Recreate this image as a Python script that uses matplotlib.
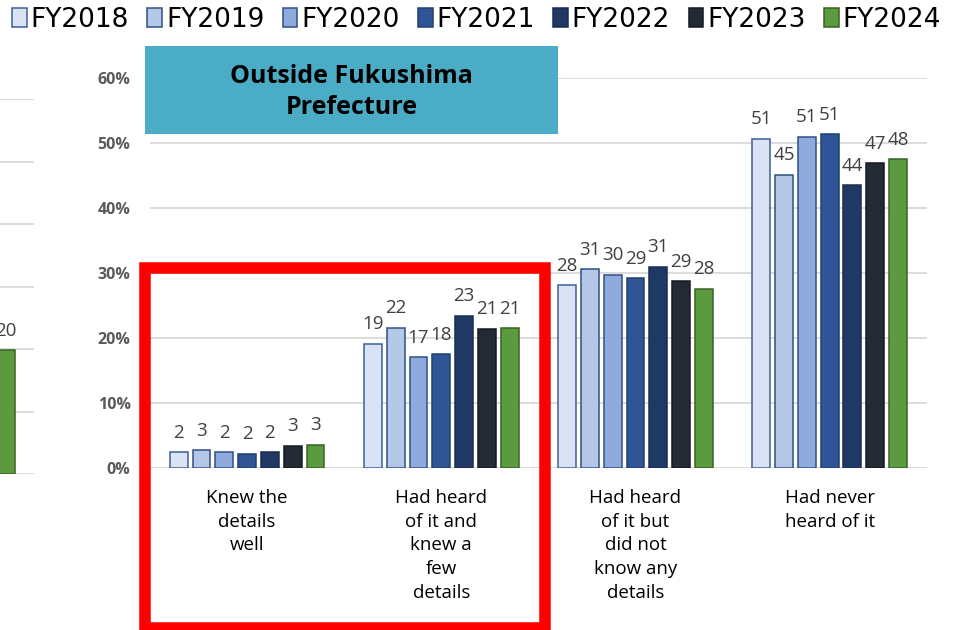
import matplotlib
matplotlib.use("Agg")
import matplotlib.pyplot as plt
from matplotlib.patches import Rectangle, Patch
import numpy as np

# ---------------- data ----------------
categories = ["Knew the\ndetails\nwell",
              "Had heard\nof it and\nknew a\nfew\ndetails",
              "Had heard\nof it but\ndid not\nknow any\ndetails",
              "Had never\nheard of it"]
years = ["FY2018", "FY2019", "FY2020", "FY2021", "FY2022", "FY2023", "FY2024"]
fy2018 = [2.4, 19.1, 28.1, 50.7]
fy2019 = [2.7, 21.6, 30.6, 45.1]
fy2020 = [2.4, 17.0, 29.7, 51.0]
fy2021 = [2.1, 17.5, 29.2, 51.4]
fy2022 = [2.4, 23.4, 31.0, 43.55]
fy2023 = [3.4, 21.4, 28.7, 46.9]
fy2024 = [3.49, 21.49, 27.6, 47.55]
series = [fy2018, fy2019, fy2020, fy2021, fy2022, fy2023, fy2024]
left_panel_fy2024_last = 19.8   # the only bar visible of the neighbouring chart
yticks = [0, 10, 20, 30, 40, 50, 60]
title_text = "Outside Fukushima\nPrefecture"

face = ["#DAE3F3", "#B4C7E7", "#8FAADC", "#2F5597", "#203864", "#222A35", "#5B9A3E"]
edge = ["#3F5F94", "#2F4F86", "#2F4F86", "#22406F", "#1A2D52", "#151A22", "#3A6326"]

FONT = "Open Sans"
W, H = 964, 630
fig = plt.figure(figsize=(W / 100, H / 100), dpi=100)

def fx(px):
    return px / W

def fy(py):
    return 1 - py / H

step = 0.1175
bw = 0.092
grid_c = "#D9D9D9"
LABEL_SIZE = 13.5

# ---------------- main axes ----------------
ax = fig.add_axes([fx(150), fy(467.7), fx(926.7) - fx(150), fy(78.4) - fy(467.7)])
ax.set_xlim(-0.5, 3.5)
ax.set_ylim(0, 60)
x = np.arange(len(categories))
for j, vals in enumerate(series):
    xs = x + (j - 3) * step
    ax.bar(xs, vals, width=bw, color=face[j], edgecolor=edge[j], linewidth=1.1, zorder=3)
    for xi, v in zip(xs, vals):
        ax.annotate(f"{v:.0f}", (xi, v), xytext=(0, 10.5), textcoords="offset points",
                    ha="center", va="baseline", fontsize=LABEL_SIZE, color="#404040",
                    family=FONT, zorder=4)

ax.set_yticks(yticks)
ax.set_yticklabels([f"{t}%" for t in yticks], fontsize=11.5, fontweight="bold",
                   color="#595959", family=FONT)
ax.tick_params(axis="y", length=0, pad=14)
ax.set_xticks([])
ax.yaxis.grid(True, color=grid_c, linewidth=1.3, zorder=0)
for s in ax.spines.values():
    s.set_visible(False)
ax.set_axisbelow(True)

for xi, lab in zip(x, categories):
    ax.annotate(lab, (xi, 0), xytext=(0, -15.5), textcoords="offset points",
                ha="center", va="top", fontsize=13.5, color="#000000",
                family=FONT, linespacing=1.4, annotation_clip=False)

# ---------------- neighbouring (cut-off) chart ----------------
axl = fig.add_axes([fx(34) - 0.78, fy(474.3), 0.78, fy(99) - fy(474.3)])
axl.set_xlim(-0.5, 3.5)
axl.set_ylim(0, 60)
axl.bar([3 + 3 * step], [left_panel_fy2024_last], width=bw, color=face[6],
        edgecolor=edge[6], linewidth=1.1, zorder=3)
axl.annotate(f"{left_panel_fy2024_last:.0f}", (3 + 3 * step, left_panel_fy2024_last),
             xytext=(0, 10.5), textcoords="offset points", ha="center", va="baseline",
             fontsize=LABEL_SIZE, color="#404040", family=FONT, zorder=4)
axl.set_yticks(yticks)
axl.set_yticklabels([])
axl.tick_params(axis="y", length=0)
axl.set_xticks([])
axl.yaxis.grid(True, color=grid_c, linewidth=1.3, zorder=0)
axl.set_axisbelow(True)
for s in axl.spines.values():
    s.set_visible(False)

# ---------------- title box ----------------
fig.patches.append(Rectangle((fx(145), fy(134)), fx(558) - fx(145), fy(46) - fy(134),
                             transform=fig.transFigure, facecolor="#4BACC6",
                             edgecolor="none", zorder=5))
fig.text(fx(351.5), fy(92), title_text, ha="center", va="center", fontsize=18,
         fontweight="bold", family=FONT, color="#000000", linespacing=1.3, zorder=6)

# ---------------- red highlight rectangle ----------------
fig.patches.append(Rectangle((fx(145.3), fy(627.5)), fx(544.5) - fx(145.3), fy(268.3) - fy(627.5),
                             transform=fig.transFigure, facecolor="none",
                             edgecolor="#FF0000", linewidth=8.3, zorder=7))

# ---------------- legend ----------------
handles = [Patch(facecolor=face[j], edgecolor=edge[j], linewidth=1.1) for j in range(len(years))]
fig.legend(handles, years, loc="center", bbox_to_anchor=(fx(476.5), fy(20)), ncol=7,
           frameon=False, handlelength=0.55, handleheight=0.75,
           handletextpad=0.15, columnspacing=0.7, borderpad=0,
           prop={"family": "DejaVu Sans", "size": 19})

fig.savefig("out.png", dpi=100)
